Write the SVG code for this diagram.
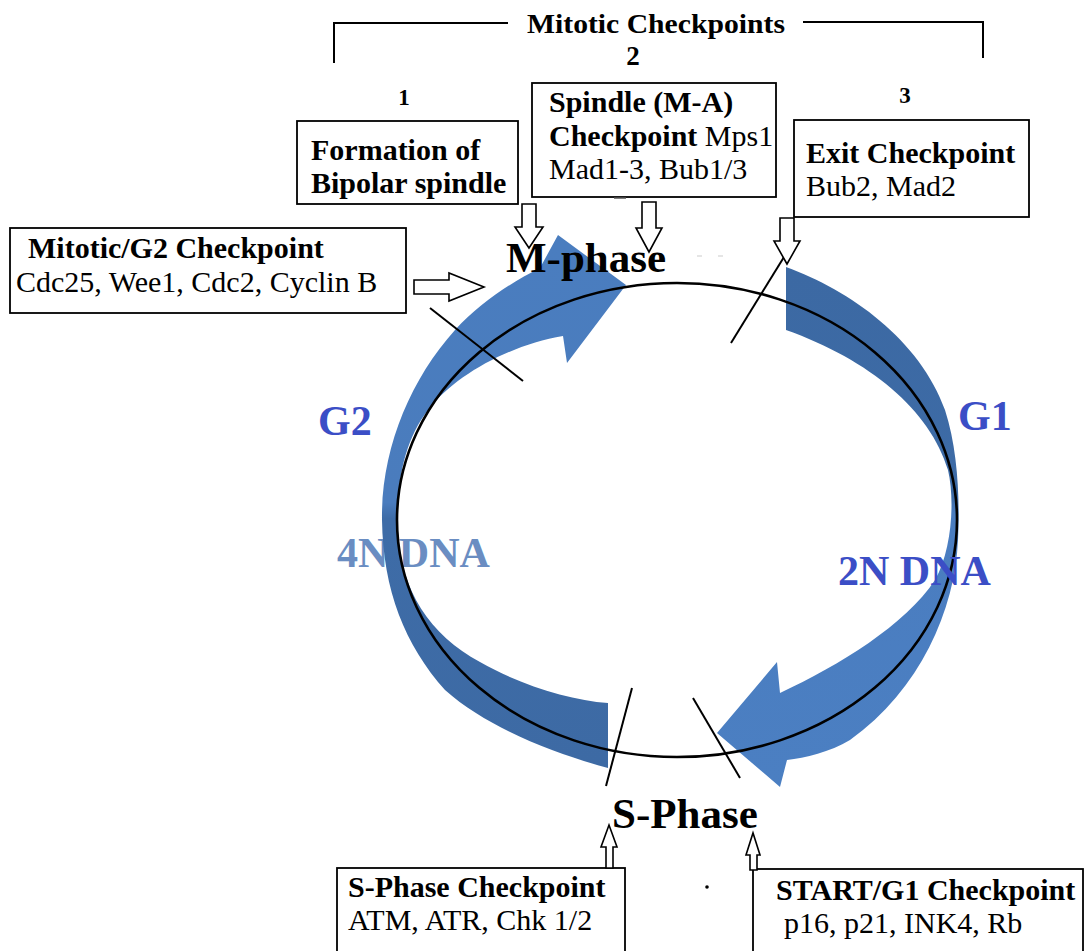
<svg xmlns="http://www.w3.org/2000/svg" width="1086" height="951" viewBox="0 0 1086 951">
<defs>
<style>
.box{fill:#fff;stroke:#000;stroke-width:1.8}
.t{font-family:"Liberation Serif","Times New Roman",serif;fill:#000}
.b{font-weight:bold}
.bx{font-size:30px}
.big{font-size:43px;font-weight:bold}
.blue{font-size:42px;font-weight:bold;fill:#3b4ec6}
.hol{fill:#fff;stroke:#000;stroke-width:1.6;stroke-linejoin:miter}
.tick{stroke:#000;stroke-width:2;fill:none}
</style>
<linearGradient id="gl" gradientUnits="userSpaceOnUse" x1="0" y1="235" x2="0" y2="770">
<stop offset="0" stop-color="#4a7dbf"/><stop offset="0.5" stop-color="#4a7cbd"/><stop offset="0.53" stop-color="#3e6ca7"/><stop offset="1" stop-color="#3d6aa4"/>
</linearGradient>
<linearGradient id="gr" gradientUnits="userSpaceOnUse" x1="0" y1="267" x2="0" y2="790">
<stop offset="0" stop-color="#3c69a3"/><stop offset="0.44" stop-color="#3d6ba6"/><stop offset="0.47" stop-color="#4a7dc0"/><stop offset="1" stop-color="#4b7fc2"/>
</linearGradient>
</defs>
<rect width="1086" height="951" fill="#fff"/>

<g id="header">
<polyline points="334,63 334,23 508,23" fill="none" stroke="#000" stroke-width="2"/>
<polyline points="803,22 983,22 983,58" fill="none" stroke="#000" stroke-width="2"/>
<text class="t b" x="527" y="33" font-size="28" textLength="258" lengthAdjust="spacingAndGlyphs">Mitotic Checkpoints</text>
<text class="t b" x="633" y="65" font-size="27" text-anchor="middle">2</text>
<text class="t b" x="404" y="105" font-size="23" text-anchor="middle">1</text>
<text class="t b" x="905" y="103" font-size="23" text-anchor="middle">3</text>
</g>

<text class="t blue" x="337" y="567" style="fill:#6a8dc2">4N DNA</text>

<g id="cycle">
<path d="M608,768 C560,755 490,730 445,690 C405,645 383,590 382,520 C381,450 410,380 455,330 C480,303 510,283 540,268 L558,235 L626,285 L567,363 L563,336 C510,345 455,375 428,410 C405,440 396,480 398,530 C400,590 430,635 480,662 C520,685 570,700 608,703 Z" fill="url(#gl)"/>
<path d="M786,267 C850,290 920,340 945,410 C958,450 960,500 958,540 C955,610 920,690 850,740 C830,752 805,758 787,760 L780,787 L717,733 L777,662 L780,693 C840,665 905,625 935,580 C952,550 955,500 948,470 C930,410 870,360 786,330 Z" fill="url(#gr)"/>
<ellipse cx="677" cy="520" rx="280" ry="237" fill="none" stroke="#000" stroke-width="2.6"/>
<line class="tick" x1="430" y1="308" x2="523" y2="381"/>
<line class="tick" x1="784" y1="257" x2="731" y2="343"/>
<line class="tick" x1="632" y1="688" x2="606" y2="786"/>
<line class="tick" x1="693" y1="698" x2="740" y2="778"/>
</g>

<text class="t blue" x="318" y="435">G2</text>
<text class="t blue" x="958" y="430">G1</text>
<text class="t blue" x="838" y="585">2N DNA</text>
<text id="mphase" class="t big" x="506" y="272">M-phase</text>
<text id="sphase" class="t big" x="612" y="828">S-Phase</text>

<g id="node-formation">
<rect class="box" x="297" y="121" width="221" height="83"/>
<text class="t b bx" x="311" y="160">Formation of</text>
<text class="t b bx" x="311" y="193">Bipolar spindle</text>
</g>

<g id="node-spindle">
<rect class="box" x="532" y="83" width="244" height="114"/>
<text class="t b bx" x="549" y="112">Spindle (M-A)</text>
<text class="t bx" x="549" y="146"><tspan font-weight="bold">Checkpoint</tspan> Mps1</text>
<text class="t bx" x="549" y="179">Mad1-3, Bub1/3</text>
<line x1="614" y1="198" x2="626" y2="198" stroke="#555" stroke-width="1.5"/>
</g>

<g id="node-exit">
<rect class="box" x="794" y="120" width="235" height="97"/>
<text class="t b bx" x="806" y="163">Exit Checkpoint</text>
<text class="t bx" x="806" y="196">Bub2, Mad2</text>
</g>

<g id="node-g2">
<rect class="box" x="10" y="228" width="396" height="85"/>
<text class="t b bx" x="28" y="258">Mitotic/G2 Checkpoint</text>
<text class="t bx" x="16" y="292">Cdc25, Wee1, Cdc2, Cyclin B</text>
</g>

<g id="node-sphase-cp">
<rect class="box" x="337" y="868" width="288" height="100"/>
<text class="t b bx" x="348" y="897">S-Phase Checkpoint</text>
<text class="t bx" x="348" y="930">ATM, ATR, Chk 1/2</text>
</g>

<g id="node-start">
<rect class="box" x="753" y="869" width="330" height="100"/>
<text class="t b bx" x="776" y="900">START/G1 Checkpoint</text>
<text class="t bx" x="784" y="933">p16, p21, INK4, Rb</text>
</g>

<g id="connectors">
<path class="hol" d="M522,204 L536,204 L536,227 L543,227 L529,248 L515,227 L522,227 Z"/>
<path class="hol" d="M642,202 L656,202 L656,228 L662,228 L649,252 L636,228 L642,228 Z"/>
<path class="hol" d="M780,218 L794,218 L794,241 L800,241 L787,264 L774,241 L780,241 Z"/>
<path class="hol" d="M414,280 L449,280 L449,273 L484,287 L449,301 L449,294 L414,294 Z"/>
<path class="hol" d="M606,868 L613,868 L613,847 L617,847 L609,825 L601,847 L606,847 Z"/>
<path class="hol" d="M750,870 L757,870 L757,855 L760,855 L753,833 L746,855 L750,855 Z"/>
</g>

<g id="marks">
<circle cx="707" cy="887" r="1.8" fill="#000"/>
<line x1="697" y1="256" x2="702" y2="256" stroke="#ddd" stroke-width="1.5"/>
<line x1="718" y1="256" x2="723" y2="256" stroke="#ddd" stroke-width="1.5"/>
</g>
</svg>
